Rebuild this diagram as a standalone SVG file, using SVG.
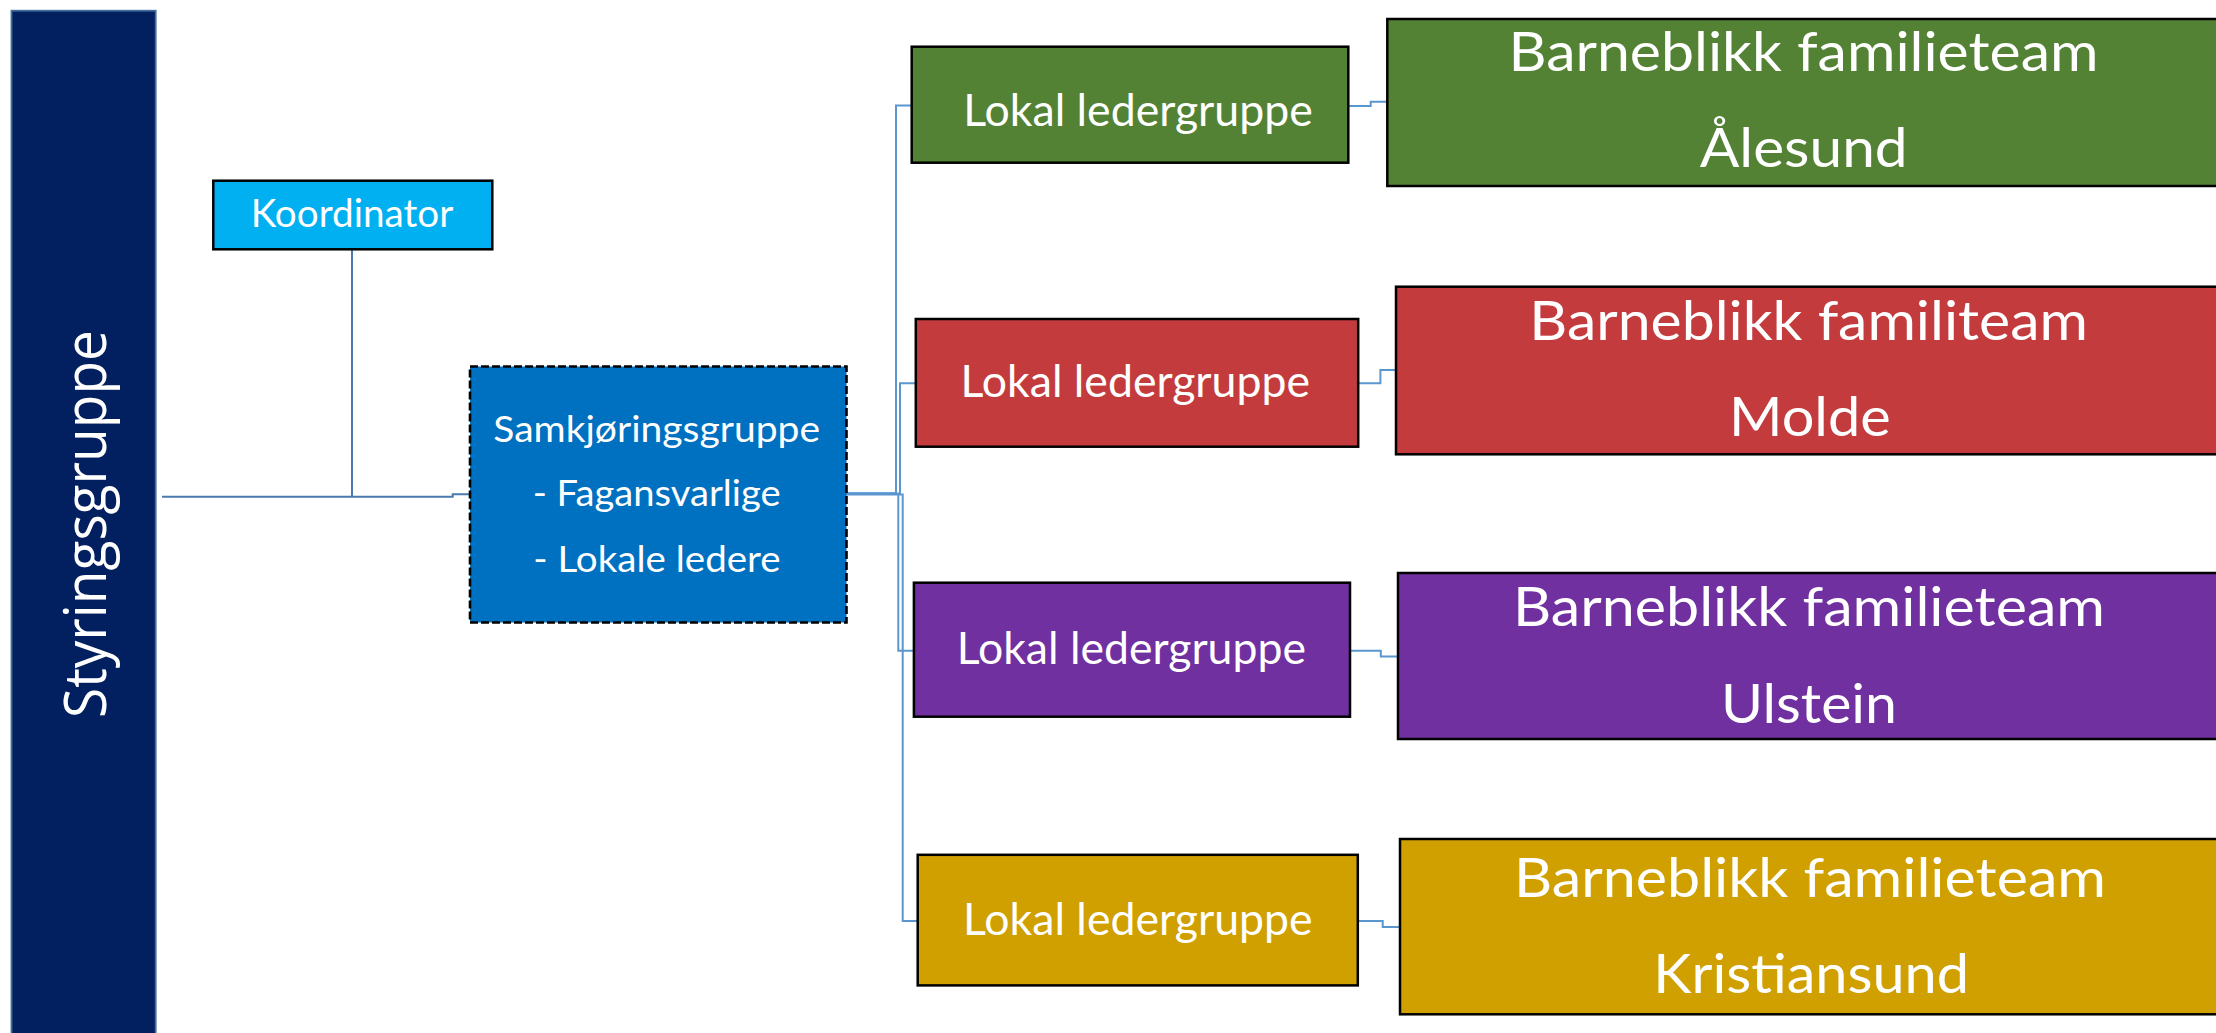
<svg xmlns="http://www.w3.org/2000/svg" width="2216" height="1033" viewBox="0 0 2216 1033">
  <style>
    .box { stroke: #000000; stroke-width: 2.5; }
    .lbl { fill: #ffffff; font-family: Lato, "Open Sans", "Liberation Sans", sans-serif; }
    .conn { fill: none; stroke-width: 2; }
    .cl { stroke: #4a7aae; }
    .cr { stroke: #5b96cf; }
  </style>
  <rect width="2216" height="1033" fill="#ffffff"/>

  <g id="connectors">
    <path class="conn cl" d="M162 496.7 H452.7 V494.3 H470"/>
    <path class="conn cl" stroke-width="1.6" d="M352 249.5 V496"/>
    <path class="conn cr" d="M846 493.3 H896 V105.5 H912"/>
    <path class="conn cr" d="M846 493.6 H900 V383.3 H916"/>
    <path class="conn cr" d="M846 494 H898.3 V650.7 H914"/>
    <path class="conn cr" d="M846 494.5 H902.7 V921 H918"/>
    <path class="conn cr" d="M1348.3 106 H1370.7 V101.7 H1387.3"/>
    <path class="conn cr" d="M1358.2 383.3 H1380.4 V370 H1396"/>
    <path class="conn cr" d="M1350 650.7 H1380.8 V656.5 H1398"/>
    <path class="conn cr" d="M1357.8 921 H1382.7 V926.9 H1400"/>
  </g>

  <g id="styringsgruppe">
    <rect x="11.5" y="10.7" width="144.2" height="1040" fill="#022060" stroke="#41719c" stroke-width="1.8"/>
    <text transform="translate(106,524) rotate(-90)" x="0" y="0" text-anchor="middle" fill="#ffffff" font-family="'Open Sans', 'DejaVu Sans', sans-serif" font-size="58" textLength="388" lengthAdjust="spacingAndGlyphs">Styringsgruppe</text>
  </g>

  <g id="koordinator">
    <rect class="box" x="213.3" y="180.7" width="279" height="68.6" fill="#00b0f0"/>
    <text class="lbl" x="250.7" y="227.3" font-size="39" textLength="202.6" lengthAdjust="spacingAndGlyphs">Koordinator</text>
  </g>

  <g id="samkjoringsgruppe">
    <rect x="470" y="366.5" width="376.5" height="256" fill="#0070c0" stroke="#000000" stroke-width="2.6" stroke-dasharray="8 3"/>
    <text class="lbl" x="493.3" y="441.7" font-size="37" textLength="326.7" lengthAdjust="spacingAndGlyphs">Samkjøringsgruppe</text>
    <text class="lbl" x="532.7" y="505.7" font-size="37" textLength="248" lengthAdjust="spacingAndGlyphs">- Fagansvarlige</text>
    <text class="lbl" x="533.3" y="571.7" font-size="37" textLength="247.4" lengthAdjust="spacingAndGlyphs">- Lokale ledere</text>
  </g>

  <g id="lokal-alesund">
    <rect class="box" x="911.7" y="46.7" width="436.6" height="116" fill="#548235"/>
    <text class="lbl" x="963.3" y="126" font-size="44" textLength="349.4" lengthAdjust="spacingAndGlyphs">Lokal ledergruppe</text>
  </g>
  <g id="lokal-molde">
    <rect class="box" x="915.8" y="319" width="442.4" height="127.7" fill="#c43b3e"/>
    <text class="lbl" x="960.5" y="396.7" font-size="44" textLength="349.5" lengthAdjust="spacingAndGlyphs">Lokal ledergruppe</text>
  </g>
  <g id="lokal-ulstein">
    <rect class="box" x="913.9" y="582.7" width="436.1" height="134" fill="#7030a0"/>
    <text class="lbl" x="956.7" y="664" font-size="44" textLength="349.3" lengthAdjust="spacingAndGlyphs">Lokal ledergruppe</text>
  </g>
  <g id="lokal-kristiansund">
    <rect class="box" x="917.7" y="854.8" width="440.1" height="130.6" fill="#d09f00"/>
    <text class="lbl" x="963" y="934.7" font-size="44" textLength="349.6" lengthAdjust="spacingAndGlyphs">Lokal ledergruppe</text>
  </g>

  <g id="team-alesund">
    <rect class="box" x="1387.3" y="19" width="835" height="167" fill="#548235"/>
    <text class="lbl" x="1508.5" y="70.7" font-size="55" textLength="590" lengthAdjust="spacingAndGlyphs">Barneblikk familieteam</text>
    <text class="lbl" x="1699.8" y="166.7" font-size="55" textLength="207.9" lengthAdjust="spacingAndGlyphs">Ålesund</text>
  </g>
  <g id="team-molde">
    <rect class="box" x="1396" y="286.7" width="830" height="167.6" fill="#c43b3e"/>
    <text class="lbl" x="1529.3" y="340" font-size="55" textLength="558.6" lengthAdjust="spacingAndGlyphs">Barneblikk familiteam</text>
    <text class="lbl" x="1729" y="436" font-size="55" textLength="161.7" lengthAdjust="spacingAndGlyphs">Molde</text>
  </g>
  <g id="team-ulstein">
    <rect class="box" x="1398" y="573" width="830" height="166" fill="#7030a0"/>
    <text class="lbl" x="1513" y="625.8" font-size="55" textLength="592" lengthAdjust="spacingAndGlyphs">Barneblikk familieteam</text>
    <text class="lbl" x="1721" y="722.6" font-size="55" textLength="176" lengthAdjust="spacingAndGlyphs">Ulstein</text>
  </g>
  <g id="team-kristiansund">
    <rect class="box" x="1400" y="839" width="830" height="175.3" fill="#d09f00"/>
    <text class="lbl" x="1514" y="896.7" font-size="55" textLength="592" lengthAdjust="spacingAndGlyphs">Barneblikk familieteam</text>
    <text class="lbl" x="1653.3" y="993.3" font-size="55" textLength="315.7" lengthAdjust="spacingAndGlyphs">Kristiansund</text>
  </g>
</svg>
